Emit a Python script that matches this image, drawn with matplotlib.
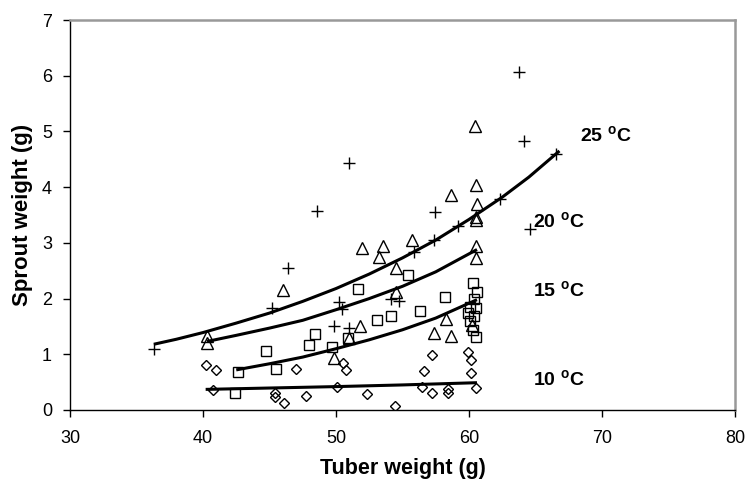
import numpy as np
import matplotlib
matplotlib.use("Agg")
import matplotlib.pyplot as plt

plt.rcParams['font.family'] = ['Liberation Sans', 'DejaVu Sans']
plt.rcParams['mathtext.fontset'] = 'custom'
plt.rcParams['mathtext.bf'] = 'Liberation Sans:bold'
plt.rcParams['mathtext.rm'] = 'Liberation Sans'

# 25 C  (plus)
x25 = [36.33, 45.16, 46.38, 48.58, 49.88, 50.25, 50.45, 51.0, 51.0, 54.15,
       54.7, 55.85, 57.35, 57.45, 59.2, 62.35, 63.75, 64.15, 64.57, 66.57]
y25 = [1.09, 1.83, 2.54, 3.57, 1.51, 1.93, 1.81, 1.47, 4.43, 1.99,
       1.96, 2.84, 3.06, 3.55, 3.30, 3.79, 6.07, 4.82, 3.25, 4.60]

# 20 C  (triangle)
x20 = [40.33, 40.33, 46.0, 49.88, 51.0, 51.83, 51.95, 53.2, 53.57, 54.5,
       54.5, 55.75, 57.4, 58.25, 58.65, 58.65, 60.2, 60.5, 60.5, 60.5,
       60.5, 60.57, 60.5, 60.45]
y20 = [1.32, 1.21, 2.15, 0.93, 1.29, 1.51, 2.90, 2.75, 2.95, 2.54,
       2.11, 3.05, 1.39, 1.63, 1.33, 3.86, 1.53, 2.72, 2.94, 3.41,
       3.46, 3.70, 4.04, 5.10]

# 15 C  (square)
x15 = [42.4, 42.65, 44.7, 45.46, 48.0, 48.4, 49.7, 50.9, 51.65, 53.1,
       54.1, 55.4, 56.3, 58.2, 60.27, 60.57, 60.4, 60.1, 60.5, 59.9,
       60.4, 60.1, 60.3, 60.5]
y15 = [0.31, 0.68, 1.06, 0.74, 1.17, 1.36, 1.13, 1.29, 2.17, 1.62,
       1.68, 2.43, 1.77, 2.02, 2.28, 2.11, 1.99, 1.84, 1.83, 1.74,
       1.69, 1.59, 1.44, 1.31]

# 10 C  (diamond)
x10 = [40.2, 41.0, 40.76, 45.4, 45.4, 46.1, 47.0, 47.75, 50.1, 50.5,
       50.75, 52.3, 54.45, 56.45, 56.6, 57.2, 57.2, 58.45, 58.45, 59.9,
       60.15, 60.15, 60.5]
y10 = [0.80, 0.72, 0.36, 0.31, 0.23, 0.12, 0.74, 0.25, 0.41, 0.85,
       0.72, 0.29, 0.08, 0.42, 0.70, 0.31, 0.98, 0.38, 0.31, 1.04,
       0.90, 0.67, 0.39]

# trend lines
cx25 = [36.3, 38, 40, 42.5, 45, 47.5, 50, 52.5, 55, 57.5, 60, 62.5, 64.5, 66.8]
cy25 = [1.18, 1.27, 1.39, 1.56, 1.74, 1.95, 2.18, 2.44, 2.73, 3.05, 3.42, 3.82, 4.18, 4.65]
cx20 = [40.3, 42.5, 45, 47.5, 50, 52.5, 55, 57.5, 60.6]
cy20 = [1.23, 1.34, 1.47, 1.61, 1.80, 2.00, 2.22, 2.48, 2.88]
cx15 = [42.5, 45, 47.5, 50, 52.5, 55, 57.5, 60.6]
cy15 = [0.72, 0.83, 0.95, 1.10, 1.26, 1.44, 1.65, 1.98]
cx10 = [40.2, 50, 55, 60.6]
cy10 = [0.37, 0.42, 0.45, 0.49]

labels = ['25 $^{\\mathbf{o}}$C', '20 $^{\\mathbf{o}}$C',
          '15 $^{\\mathbf{o}}$C', '10 $^{\\mathbf{o}}$C']
label_x = [68.35, 64.8, 64.8, 64.8]
label_y = [4.92, 3.38, 2.15, 0.54]

fig = plt.figure(figsize=(7.45, 4.8), dpi=100)
ax = fig.add_axes([70 / 745, 70 / 480, 665 / 745, 390 / 480])

ax.plot(x25, y25, linestyle='none', marker='+', ms=9, mew=1.0, color='black')
ax.plot(x20, y20, linestyle='none', marker='^', ms=8, mew=1.0,
        mfc='none', mec='black')
ax.plot(x15, y15, linestyle='none', marker='s', ms=6.5, mew=1.0,
        mfc='none', mec='black')
ax.plot(x10, y10, linestyle='none', marker='D', ms=5.5, mew=1.0,
        mfc='none', mec='black')

for cx, cy in [(cx25, cy25), (cx20, cy20), (cx15, cy15), (cx10, cy10)]:
    ax.plot(cx, cy, color='black', lw=2.2, solid_capstyle='butt')

for t, lx, ly in zip(labels, label_x, label_y):
    ax.text(lx, ly, t, fontsize=14, fontweight='bold', va='center', ha='left')

ax.set_xlim(30, 80)
ax.set_ylim(0, 7)
ax.set_xticks([30, 40, 50, 60, 70, 80])
ax.set_yticks(range(0, 8))
ax.tick_params(direction='out', length=5, width=1, labelsize=13)
ax.tick_params(axis='x', pad=9.5)
ax.tick_params(axis='y', pad=8)

for s in ['top', 'right']:
    ax.spines[s].set_color('#999999')
    ax.spines[s].set_linewidth(1.8)
for s in ['left', 'bottom']:
    ax.spines[s].set_color('black')
    ax.spines[s].set_linewidth(1.0)

ax.set_xlabel('Tuber weight (g)', fontsize=15.5, fontweight='bold', labelpad=8)
ax.set_ylabel('Sprout weight (g)', fontsize=16, fontweight='bold', labelpad=6)

fig.savefig('out.png', dpi=100)
